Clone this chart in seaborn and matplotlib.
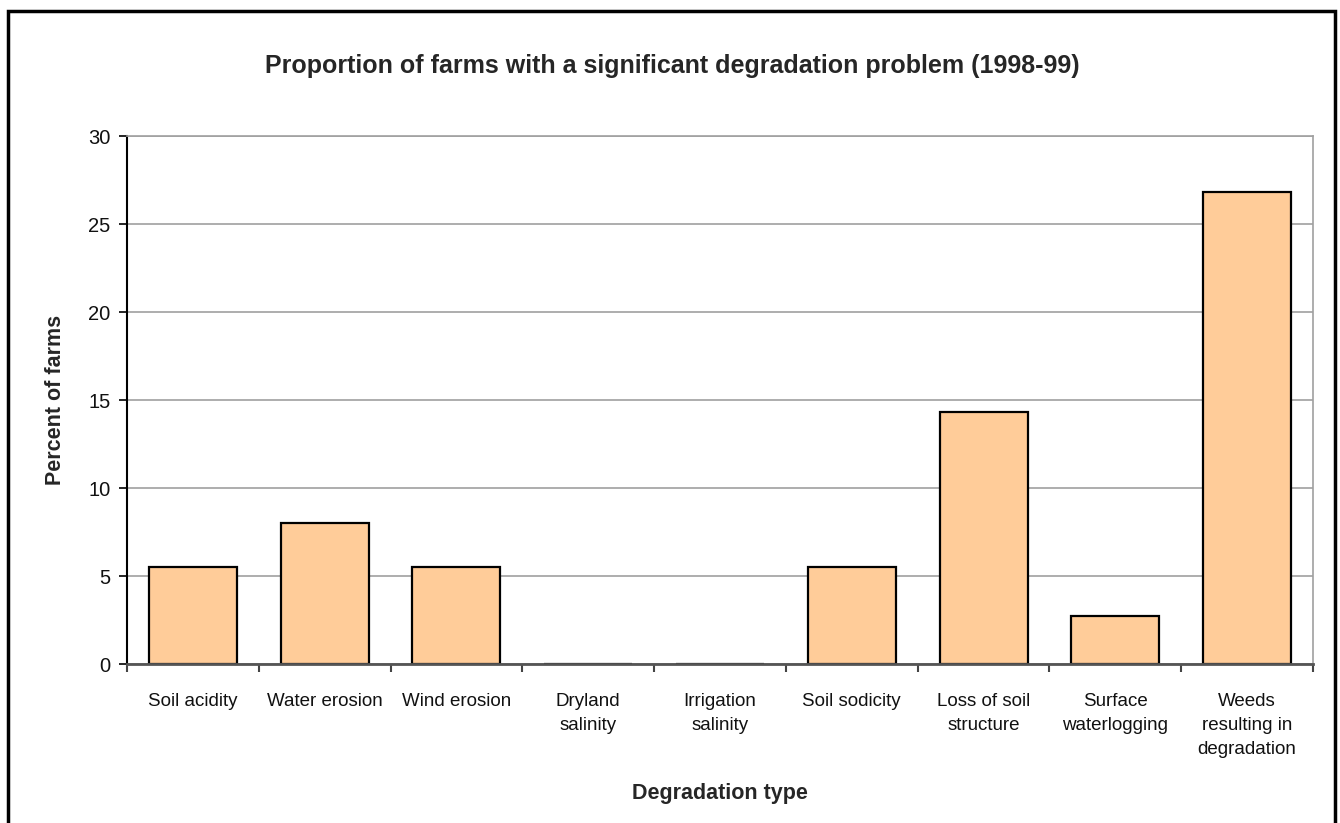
import matplotlib
matplotlib.use("Agg")
import matplotlib.pyplot as plt
import seaborn as sns
import pandas as pd
from matplotlib.patches import Rectangle
from matplotlib.ticker import FixedLocator

categories = [
    "Soil acidity",
    "Water erosion",
    "Wind erosion",
    "Dryland\nsalinity",
    "Irrigation\nsalinity",
    "Soil sodicity",
    "Loss of soil\nstructure",
    "Surface\nwaterlogging",
    "Weeds\nresulting in\ndegradation",
]
percent_farms = [5.5, 8.0, 5.5, 0.0, 0.0, 5.5, 14.3, 2.7, 26.8]
y_ticks = [0, 5, 10, 15, 20, 25, 30]

sns.set_theme(style="white")
plt.rcParams["font.family"] = ["Liberation Sans", "DejaVu Sans"]

df = pd.DataFrame({"type": categories, "pct": percent_farms})

fig = plt.figure(figsize=(13.4, 8.23), dpi=100)
fig.patch.set_facecolor("white")

# outer chart frame
fig.patches.append(Rectangle((8 / 1340, -0.05), (1335 - 8) / 1340, 1 - 11 / 823 + 0.05,
                             transform=fig.transFigure, fill=False,
                             edgecolor="black", linewidth=2.5, zorder=0))

ax = fig.add_axes([127 / 1340, 1 - 664 / 823, (1313 - 127) / 1340, (664 - 136) / 823])
sns.barplot(data=df, x="type", y="pct", color="#FFCC99", edgecolor="black",
            linewidth=1.6, width=0.667, saturation=1, ax=ax, zorder=2)

ax.set_xlim(-0.5, len(categories) - 0.5)
ax.set_ylim(0, 30)
ax.set_yticks(y_ticks)
ax.yaxis.grid(True, color="#A0A0A0", linewidth=1.2, zorder=0)
ax.set_axisbelow(True)

ax.spines["left"].set_color("black")
ax.spines["left"].set_linewidth(1.5)
ax.spines["bottom"].set_color("#555555")
ax.spines["bottom"].set_linewidth(2)
ax.spines["bottom"].set_zorder(3)
for s in ("top", "right"):
    ax.spines[s].set_color("#A0A0A0")
    ax.spines[s].set_linewidth(1.2)

ax.tick_params(axis="y", which="major", left=True, length=6, width=1.2,
               color="black", labelsize=14.5, pad=6, labelcolor="#111111")
ax.tick_params(axis="x", which="major", bottom=False, length=0, labelsize=13.5,
               pad=21, labelcolor="#111111")
ax.xaxis.set_minor_locator(FixedLocator([i + 0.5 for i in range(-1, len(categories))]))
ax.tick_params(axis="x", which="minor", bottom=True, length=6, width=1.5, color="#444444")
for lbl in ax.get_xticklabels():
    lbl.set_linespacing(1.55)

ax.set_xlabel("Degradation type", fontsize=15.5, fontweight="bold", labelpad=18)
ax.set_ylabel("Percent of farms", fontsize=15.5, fontweight="bold", labelpad=16)

fig.text(0.5015, 1 - 66 / 823, "Proportion of farms with a significant degradation problem (1998-99)",
         ha="center", va="center", fontsize=18, fontweight="bold")

fig.savefig("out.png", dpi=100)
